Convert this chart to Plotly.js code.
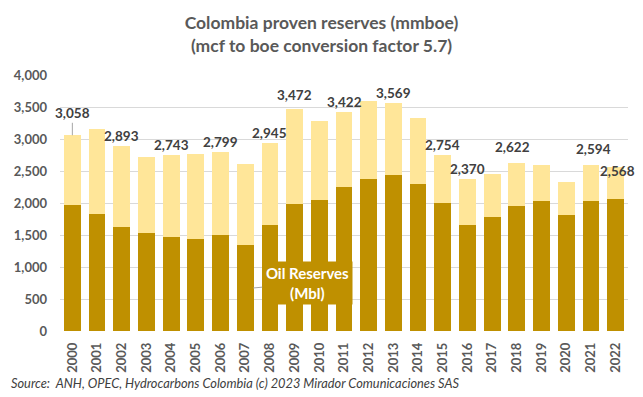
<!DOCTYPE html>
<html>
<head>
<meta charset="utf-8">
<script src="https://cdn.plot.ly/plotly-3.0.1.min.js"></script>
<style>html,body{margin:0;padding:0;background:#fff}#chart{width:643px;height:397px}</style>
</head>
<body>
<div id="chart"></div>
<script>
// Data (mmboe)
const years = ["2000","2001","2002","2003","2004","2005","2006","2007","2008","2009","2010","2011","2012","2013","2014","2015","2016","2017","2018","2019","2020","2021","2022"];
const totalReserves = [3058, 3150, 2893, 2715, 2743, 2770, 2799, 2605, 2945, 3472, 3285, 3422, 3590, 3569, 3335, 2754, 2370, 2460, 2622, 2600, 2335, 2594, 2568];
const oilReserves = [1969, 1828, 1625, 1531, 1469, 1438, 1500, 1344, 1656, 1984, 2047, 2250, 2375, 2437, 2297, 2000, 1656, 1781, 1953, 2031, 1812, 2031, 2062];
const labeledYears = ["2000","2002","2004","2006","2008","2009","2011","2013","2015","2016","2018","2021","2022"];

const gasReserves = totalReserves.map((t, i) => t - oilReserves[i]);

const FONT = "Lato, 'Open Sans', sans-serif";
const DARK = "#BF9000";
const LIGHT = "#FFE699";

// label nudges (style only)
const nudge = {
  "2009": {dy: 14}, "2018": {dy: 16, dx: -4}, "2021": {dy: 16, dx: 3}, "2022": {dy: -4, dx: 2}
};

const annotations = [];
labeledYears.forEach(y => {
  const i = years.indexOf(y);
  const txt = totalReserves[i].toLocaleString("en-US");
  const base = {x: i, y: totalReserves[i], xref: "x", yref: "y", text: txt,
    font: {family: FONT, size: 13.5, color: "#404040", weight: 700}};
  if (y === "2000") {
    annotations.push(Object.assign(base, {showarrow: true, arrowhead: 0, arrowwidth: 1,
      arrowcolor: "#a6a6a6", ax: 0, ay: -22}));
  } else {
    const n = nudge[y] || {};
    annotations.push(Object.assign(base, {showarrow: false, yanchor: "middle",
      yshift: (n.dy !== undefined ? n.dy : 10), xshift: n.dx || 0}));
  }
});

// Oil Reserves callout pointing at 2007 bar
const ci = years.indexOf("2007");
annotations.push({
  x: ci, y: oilReserves[ci] / 2, xref: "x", yref: "y",
  text: "Oil Reserves<br>(Mbl)", showarrow: true, arrowhead: 0, arrowwidth: 1,
  arrowcolor: "#a6a6a6", ax: 54, ay: -5, xshift: 8,
  bgcolor: DARK, width: 85, height: 38, borderpad: 2,
  font: {family: FONT, size: 15, color: "#ffffff", weight: 700}
});

annotations.push({
  xref: "paper", yref: "paper", x: -0.0906, y: -0.203, xanchor: "left", yanchor: "middle",
  showarrow: false,
  text: "<i>Source:  ANH, OPEC, Hydrocarbons Colombia (c) 2023 Mirador Comunicaciones SAS</i>",
  font: {family: FONT, size: 12.8, color: "#404040"}
});

const traces = [
  {type: "bar", name: "Oil Reserves (Mbl)", x: years, y: oilReserves, marker: {color: DARK}, hoverinfo: "x+y"},
  {type: "bar", name: "Gas Reserves", x: years, y: gasReserves, marker: {color: LIGHT}, hoverinfo: "x+y"}
];

const layout = {
  width: 643, height: 397,
  margin: {l: 60, r: 15, t: 75, b: 66},
  paper_bgcolor: "#ffffff", plot_bgcolor: "#ffffff",
  barmode: "stack", bargap: 0.32,
  showlegend: false,
  title: {
    text: "Colombia proven reserves (mmboe)<br>(mcf to boe conversion factor 5.7)",
    xref: "container", x: 0.5, xanchor: "center",
    yref: "container", y: 0.927, yanchor: "top",
    font: {family: FONT, size: 17.5, color: "#595959", weight: 700}
  },
  xaxis: {
    type: "category", range: [-0.5, years.length - 0.5], tickangle: -90,
    showgrid: false, showline: false, zeroline: false,
    ticks: "", ticklabelstandoff: 8,
    tickfont: {family: FONT, size: 13, color: "#595959", weight: 700}
  },
  yaxis: {
    range: [0, 4000], dtick: 500, tickformat: ",", showgrid: true, gridcolor: "#d9d9d9",
    gridwidth: 1, zeroline: false, showline: false, ticks: "", ticklabelstandoff: 12,
    tickfont: {family: FONT, size: 13, color: "#595959", weight: 700}
  },
  annotations: annotations,
  font: {family: FONT}
};

Plotly.newPlot("chart", traces, layout, {staticPlot: true, displayModeBar: false});
</script>
</body>
</html>
